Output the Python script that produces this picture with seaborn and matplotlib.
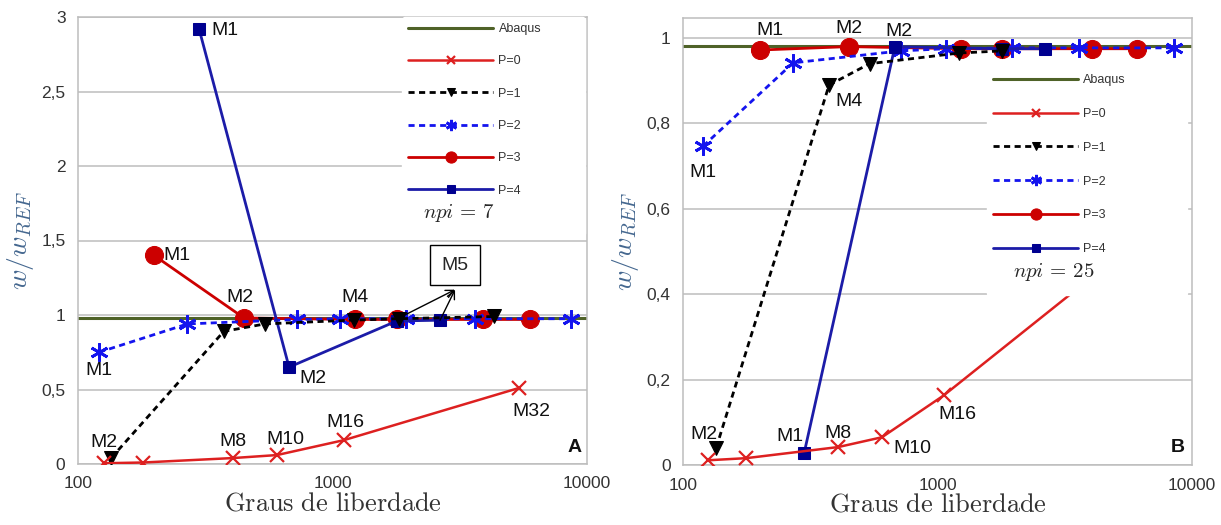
import numpy as np
import pandas as pd
import matplotlib
matplotlib.use("Agg")
import matplotlib.pyplot as plt
import seaborn as sns
from matplotlib.lines import Line2D

# ---------------- data ----------------
ref_A = 0.98
ref_B = 0.982

A_P0_x = [126, 180, 407, 605, 1108, 5400]
A_P0_y = [0.005, 0.01, 0.04, 0.06, 0.16, 0.51]
A_P1_x = [135, 374, 542, 1211, 1819, 4325]
A_P1_y = [0.04, 0.89, 0.94, 0.966, 0.975, 0.99]
A_P2_x = [121, 269, 725, 1069, 1950, 3624, 8690]
A_P2_y = [0.75, 0.94, 0.97, 0.975, 0.975, 0.975, 0.975]
A_P3_x = [199, 449, 1230, 1790, 3920, 5980]
A_P3_y = [1.40, 0.98, 0.97, 0.97, 0.97, 0.97]
A_P4_x = [299, 675, 1790, 2646]
A_P4_y = [2.92, 0.65, 0.96, 0.965]

B_P0_x = [125, 177, 407, 605, 1058, 5400]
B_P0_y = [0.011, 0.016, 0.042, 0.065, 0.163, 0.50]
B_P1_x = [135, 375, 541, 1219, 1800]
B_P1_y = [0.04, 0.89, 0.94, 0.965, 0.97]
B_P2_x = [120, 271, 718, 1076, 1963, 3589, 8530]
B_P2_y = [0.747, 0.942, 0.97, 0.975, 0.977, 0.977, 0.977]
B_P3_x = [201, 448, 1241, 1800, 4054, 6095]
B_P3_y = [0.972, 0.98, 0.975, 0.975, 0.975, 0.975]
B_P4_x = [299, 680, 1800, 2655]
B_P4_y = [0.027, 0.98, 0.975, 0.975]

series_labels = ["P=0", "P=1", "P=2", "P=3", "P=4"]
A_yticks = [0, 0.5, 1, 1.5, 2, 2.5, 3]
A_yticklabels = ["0", "0,5", "1", "1,5", "2", "2,5", "3"]
B_yticks = [0, 0.2, 0.4, 0.6, 0.8, 1]
B_yticklabels = ["0", "0,2", "0,4", "0,6", "0,8", "1"]
xticks = [100, 1000, 10000]
xticklabels = ["100", "1000", "10000"]

# ---------------- style ----------------
sns.set_theme(style="white")
plt.rcParams["font.family"] = ["Liberation Sans", "DejaVu Sans"]
plt.rcParams["mathtext.fontset"] = "cm"

C_ABQ = "#4f6228"
C_P0 = "#dd2020"
C_P1 = "#000000"
C_P2 = "#1414ee"
C_P3 = "#cc0000"
C_P4 = "#1c1ca8"
C_P4M = "#000090"
GRID = "#bdbdbd"

fig = plt.figure(figsize=(12.21, 5.25), dpi=100)
axA = fig.add_axes([78 / 1221, 1 - 464 / 525, 509 / 1221, 447 / 525])
axB = fig.add_axes([683 / 1221, 1 - 465 / 525, 509 / 1221, 447 / 525])


def draw(ax, ref, P0x, P0y, P1x, P1y, P2x, P2y, P3x, P3y, P4x, P4y):
    ax.set_xscale("log")
    ax.axhline(ref, color=C_ABQ, lw=2.2, zorder=1.5, label="Abaqus")
    sns.lineplot(x=P3x, y=P3y, ax=ax, color=C_P3, lw=2, marker="o", markersize=13,
                 markeredgecolor=C_P3, label="P=3", zorder=3, sort=False)
    sns.lineplot(x=P2x, y=P2y, ax=ax, color=C_P2, lw=2, linestyle=(0, (2.2, 1.6)),
                 marker=(6, 2, 0), markersize=13, markeredgewidth=2,
                 markeredgecolor=C_P2, label="P=2", zorder=3.1, sort=False)
    sns.lineplot(x=P4x, y=P4y, ax=ax, color=C_P4, lw=2, marker="s", markersize=9,
                 markerfacecolor=C_P4M, markeredgecolor=C_P4M, label="P=4", zorder=3.2, sort=False)
    sns.lineplot(x=P1x, y=P1y, ax=ax, color=C_P1, lw=2, linestyle=(0, (2.2, 1.6)),
                 marker="v", markersize=10, markeredgecolor=C_P1, label="P=1", zorder=3.3, sort=False)
    sns.lineplot(x=P0x, y=P0y, ax=ax, color=C_P0, lw=1.8, marker="x", markersize=10,
                 markeredgewidth=1.6, markeredgecolor=C_P0, label="P=0", zorder=3.4, sort=False)
    ax.set_xlim(100, 10000)
    ax.set_xticks(xticks)
    ax.set_xticklabels(xticklabels)
    ax.xaxis.set_minor_locator(matplotlib.ticker.NullLocator())
    ax.grid(axis="y", color=GRID, lw=1.1)
    ax.grid(axis="x", visible=False)
    for s in ax.spines.values():
        s.set_color(GRID)
        s.set_linewidth(1.1)
    ax.tick_params(axis="both", direction="out", length=6, width=1, color=GRID,
                   labelsize=12.5, labelcolor="#333333", pad=3)
    ax.set_xlabel(r"$\mathrm{Graus\ de\ liberdade}$", fontsize=19, color="#333333", labelpad=0)
    ax.set_ylabel(r"$w/w_{REF}$", fontsize=20, color="#44678f", labelpad=4)


draw(axA, ref_A, A_P0_x, A_P0_y, A_P1_x, A_P1_y, A_P2_x, A_P2_y, A_P3_x, A_P3_y, A_P4_x, A_P4_y)
draw(axB, ref_B, B_P0_x, B_P0_y, B_P1_x, B_P1_y, B_P2_x, B_P2_y, B_P3_x, B_P3_y, B_P4_x, B_P4_y)

axA.set_ylim(0, 3)
axA.set_yticks(A_yticks)
axA.set_yticklabels(A_yticklabels)
axB.set_ylim(0, 1.047)
axB.set_yticks(B_yticks)
axB.set_yticklabels(B_yticklabels)


def make_legend(ax, bbox, spacing):
    h, l = ax.get_legend_handles_labels()
    order = ["Abaqus"] + series_labels
    hd = dict(zip(l, h))
    handles = [hd[k] for k in order] + [Line2D([], [], color="none")]
    labels = order + [" "]
    leg = ax.legend(handles, labels, loc="upper left", bbox_to_anchor=bbox, mode="expand",
                    fontsize=9, handlelength=6.8, handletextpad=0.4, labelspacing=spacing,
                    markerscale=0.62, frameon=True, facecolor="white", edgecolor="white",
                    framealpha=1, borderpad=0.5, borderaxespad=0)
    leg.set_zorder(5)
    for t in leg.get_texts():
        t.set_color("#333333")
    return leg


make_legend(axA, (0.637, 0.0, 0.359, 1.0), 1.62)
make_legend(axB, (0.597, 0.0, 0.393, 0.888), 1.74)

axA.text(0.678, 0.5615, r"$npi\,=\,7$", transform=axA.transAxes, fontsize=15,
         ha="left", va="center", zorder=6)
axB.text(0.648, 0.432, r"$npi\,=\,25$", transform=axB.transAxes, fontsize=15,
         ha="left", va="center", zorder=6)

LF = 14


def lab(ax, text, x, y, dx, dy, ha="center", va="center"):
    ax.annotate(text, xy=(x, y), xytext=(dx, dy), textcoords="offset points",
                ha=ha, va=va, fontsize=LF, color="#111111", zorder=7)


# Panel A labels
lab(axA, "M1", A_P4_x[0], A_P4_y[0], 9, -1, ha="left")
lab(axA, "M1", A_P3_x[0], A_P3_y[0], 7, 0, ha="left")
lab(axA, "M2", A_P3_x[1], A_P3_y[1], -3, 15)
lab(axA, "M4", A_P3_x[2], A_P3_y[2], 0, 16)
lab(axA, "M2", A_P4_x[1], A_P4_y[1], 17, -8)
lab(axA, "M1", A_P2_x[0], A_P2_y[0], 0, -13)
lab(axA, "M2", A_P0_x[0], A_P0_y[0], 0, 15)
lab(axA, "M8", A_P0_x[2], A_P0_y[2], 0, 12)
lab(axA, "M10", A_P0_x[3], A_P0_y[3], 6, 11)
lab(axA, "M16", A_P0_x[4], A_P0_y[4], 1, 13)
lab(axA, "M32", A_P0_x[5], A_P0_y[5], 9, -17)
axA.text(0.975, 0.036, "A", transform=axA.transAxes, fontsize=14, fontweight="bold",
         ha="center", va="center", color="#111111")

# M5 box + arrows
m5x, m5y = 3030, 1.335
tipx, tipy = 3030, 1.17
axA.text(m5x, m5y, "M5", fontsize=LF, ha="center", va="center", zorder=7,
         bbox=dict(boxstyle="square,pad=0.6", fc="white", ec="black", lw=1))
for (sx, sy) in [(A_P2_x[4], A_P2_y[4] + 0.03), (A_P4_x[3], A_P4_y[3])]:
    axA.annotate("", xy=(tipx, tipy), xytext=(sx, sy),
                 arrowprops=dict(arrowstyle="->", color="black", lw=1, shrinkA=0, shrinkB=0,
                                 mutation_scale=14), zorder=7)

# Panel B labels
lab(axB, "M1", B_P3_x[0], B_P3_y[0], 7, 14)
lab(axB, "M2", B_P3_x[1], B_P3_y[1], 0, 13)
lab(axB, "M2", B_P4_x[1], B_P4_y[1], 3, 11)
lab(axB, "M4", B_P1_x[1], B_P1_y[1], 14, -12)
lab(axB, "M1", B_P2_x[0], B_P2_y[0], 0, -19)
lab(axB, "M2", B_P1_x[0], B_P1_y[0], -9, 10)
lab(axB, "M1", B_P4_x[0], B_P4_y[0], -10, 12)
lab(axB, "M8", B_P0_x[2], B_P0_y[2], 0, 10)
lab(axB, "M10", B_P0_x[3], B_P0_y[3], 22, -8)
lab(axB, "M16", B_P0_x[4], B_P0_y[4], 10, -14)
axB.text(0.972, 0.04, "B", transform=axB.transAxes, fontsize=14, fontweight="bold",
         ha="center", va="center", color="#111111")

fig.savefig("out.png", dpi=100)
